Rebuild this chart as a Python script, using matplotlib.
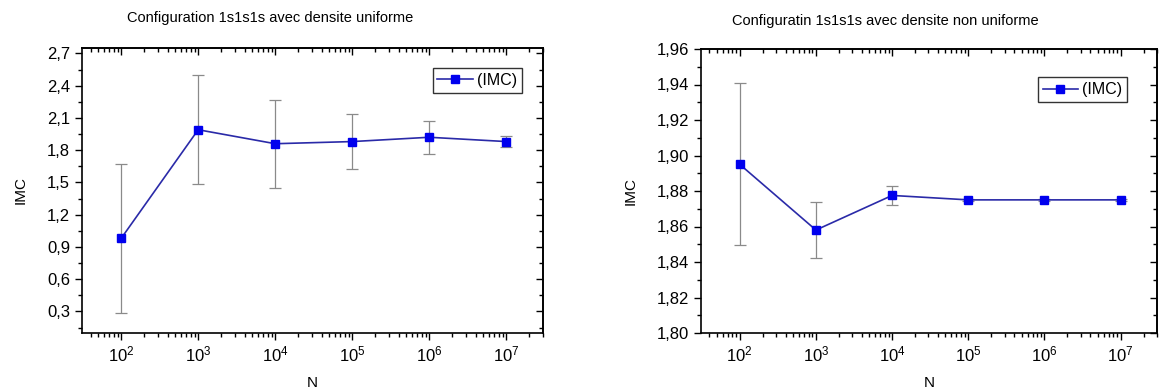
import numpy as np
import matplotlib
matplotlib.use('Agg')
from matplotlib import pyplot as plt
from matplotlib import ticker

plt.rcParams['font.family'] = ['Liberation Sans', 'DejaVu Sans']

# donnees
N = [1e2, 1e3, 1e4, 1e5, 1e6, 1e7]

imc_unif = [0.98, 1.99, 1.86, 1.88, 1.92, 1.88]
err_unif = [0.69, 0.505, 0.41, 0.255, 0.155, 0.05]

imc_nonunif = [1.895, 1.858, 1.8775, 1.875, 1.875, 1.875]
err_nonunif = [0.0457, 0.016, 0.0053, 0.0006, 0.0004, 0.0004]

titres = ['Configuration 1s1s1s avec densite uniforme',
          'Configuratin 1s1s1s avec densite non uniforme']


def virgule(v, nd):  # separateur decimal a la francaise
    return ('{:.' + str(nd) + 'f}').format(v).replace('.', ',')


def log_ticks(axis):
    axis.set_major_locator(ticker.LogLocator(base=10, numticks=10))
    axis.set_minor_locator(ticker.LogLocator(base=10, subs=np.arange(2, 10), numticks=20))
    axis.set_minor_formatter(ticker.NullFormatter())


def trace(ax, y, err, ylim, ymaj, ymin, nd, leg_bbox):
    ax.errorbar(N, y, yerr=err, fmt='none', ecolor='#8a8a8a', elinewidth=0.9,
                capsize=4.5, capthick=0.9, zorder=1)
    ax.plot(N, y, '-', color='#2a2aa8', lw=1.2, marker='s', markersize=5.5,
            markerfacecolor='#0000ee', markeredgecolor='#0000ee', label='(IMC)', zorder=3)
    ax.set_xscale('log')
    ax.set_xlim(31, 3e7)
    ax.set_ylim(*ylim)
    ax.yaxis.set_major_locator(ticker.MultipleLocator(ymaj))
    ax.yaxis.set_minor_locator(ticker.MultipleLocator(ymin))
    ax.yaxis.set_major_formatter(ticker.FuncFormatter(lambda v, p: virgule(v, nd)))
    log_ticks(ax.xaxis)
    ax.tick_params(which='both', direction='out', labelsize=12, width=1)
    ax.tick_params(which='major', length=5)
    ax.tick_params(which='minor', length=3)
    for sp in ax.spines.values():
        sp.set_linewidth(1.2)

    # ticks vers l'interieur en haut et a droite
    haut = ax.secondary_xaxis('top')
    log_ticks(haut.xaxis)
    haut.tick_params(which='both', direction='in', labeltop=False, width=1)
    haut.tick_params(which='major', length=5)
    haut.tick_params(which='minor', length=3)
    droite = ax.secondary_yaxis('right')
    droite.yaxis.set_major_locator(ticker.MultipleLocator(ymaj))
    droite.yaxis.set_minor_locator(ticker.MultipleLocator(ymin))
    droite.tick_params(which='both', direction='in', labelright=False, width=1)
    droite.tick_params(which='major', length=5)
    droite.tick_params(which='minor', length=3)
    for s in (haut, droite):
        for sp in s.spines.values():
            sp.set_linewidth(1.2)

    ax.set_xlabel('N', fontsize=11, labelpad=8)
    ax.set_ylabel('IMC', fontsize=11, labelpad=14)
    leg = ax.legend(loc='upper right', bbox_to_anchor=leg_bbox, fontsize=11.5, fancybox=False,
                    edgecolor='#333333', framealpha=1, handlelength=2.2, handletextpad=0.3,
                    borderpad=0.3, borderaxespad=0)
    leg.get_frame().set_linewidth(1)


fig = plt.figure(figsize=(11.61, 3.92), dpi=100, facecolor='w')

ax1 = fig.add_axes([82 / 1161, 1 - 333 / 392, 461 / 1161, 285 / 392])
trace(ax1, imc_unif, err_unif, (0.1, 2.75), 0.3, 0.15, 1, (0.955, 0.93))

ax2 = fig.add_axes([701 / 1161, 1 - 333 / 392, 456 / 1161, 284 / 392])
trace(ax2, imc_nonunif, err_nonunif, (1.80, 1.96), 0.02, 0.01, 2, (0.935, 0.9))

fig.text(270 / 1161, 1 - 18 / 392, titres[0], ha='center', va='center', fontsize=10.5)
fig.text(885 / 1161, 1 - 21 / 392, titres[1], ha='center', va='center', fontsize=10.5)

fig.savefig('out.png', dpi=100)
